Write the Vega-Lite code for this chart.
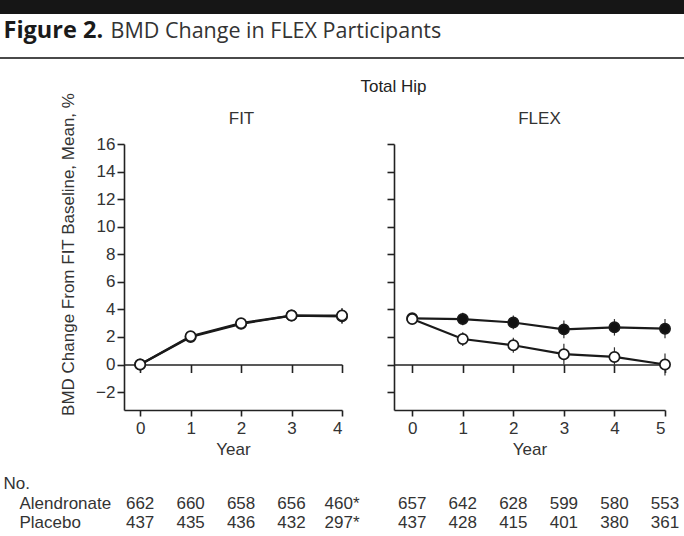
{
  "$schema": "https://vega.github.io/schema/vega-lite/v6.json",
  "padding": 0,
  "background": "white",
  "bounds": "flush",
  "spacing": 0,
  "config": {
    "view": {"stroke": null},
    "font": "Liberation Sans",
    "axis": {"labelFont": "Liberation Sans", "titleFont": "Liberation Sans", "labelColor": "#333", "titleColor": "#333", "domainColor": "#222", "tickColor": "#222", "labelFontSize": 17, "titleFontSize": 17, "titleFontWeight": "normal", "grid": false, "domainWidth": 1.6, "tickWidth": 1.6, "labelOverlap": false}
  },
  "datasets": {
    "pts": [
      {"panel": "FIT", "group": "Alendronate", "year": 0, "value": 0, "lo": 0, "hi": 0},
      {"panel": "FIT", "group": "Alendronate", "year": 1, "value": 2.0, "lo": 1.7, "hi": 2.3},
      {"panel": "FIT", "group": "Alendronate", "year": 2, "value": 2.95, "lo": 2.65, "hi": 3.25},
      {"panel": "FIT", "group": "Alendronate", "year": 3, "value": 3.55, "lo": 3.25, "hi": 3.85},
      {"panel": "FIT", "group": "Alendronate", "year": 4, "value": 3.5, "lo": 2.95, "hi": 4.05},
      {"panel": "FIT", "group": "Placebo", "year": 0, "value": 0, "lo": 0, "hi": 0},
      {"panel": "FIT", "group": "Placebo", "year": 1, "value": 2.05, "lo": 1.75, "hi": 2.35},
      {"panel": "FIT", "group": "Placebo", "year": 2, "value": 3.0, "lo": 2.7, "hi": 3.3},
      {"panel": "FIT", "group": "Placebo", "year": 3, "value": 3.55, "lo": 3.25, "hi": 3.85},
      {"panel": "FIT", "group": "Placebo", "year": 4, "value": 3.55, "lo": 3.0, "hi": 4.1},
      {"panel": "FLEX", "group": "Alendronate", "year": 0, "value": 3.35, "lo": 3.05, "hi": 3.65},
      {"panel": "FLEX", "group": "Alendronate", "year": 1, "value": 3.3, "lo": 2.85, "hi": 3.75},
      {"panel": "FLEX", "group": "Alendronate", "year": 2, "value": 3.05, "lo": 2.55, "hi": 3.55},
      {"panel": "FLEX", "group": "Alendronate", "year": 3, "value": 2.55, "lo": 1.9, "hi": 3.2},
      {"panel": "FLEX", "group": "Alendronate", "year": 4, "value": 2.7, "lo": 2.1, "hi": 3.3},
      {"panel": "FLEX", "group": "Alendronate", "year": 5, "value": 2.6, "lo": 1.9, "hi": 3.3},
      {"panel": "FLEX", "group": "Placebo", "year": 0, "value": 3.3, "lo": 2.95, "hi": 3.65},
      {"panel": "FLEX", "group": "Placebo", "year": 1, "value": 1.85, "lo": 1.35, "hi": 2.35},
      {"panel": "FLEX", "group": "Placebo", "year": 2, "value": 1.4, "lo": 0.85, "hi": 1.95},
      {"panel": "FLEX", "group": "Placebo", "year": 3, "value": 0.75, "lo": 0.0, "hi": 1.5},
      {"panel": "FLEX", "group": "Placebo", "year": 4, "value": 0.55, "lo": -0.15, "hi": 1.25},
      {"panel": "FLEX", "group": "Placebo", "year": 5, "value": 0.0, "lo": -0.8, "hi": 0.8}
    ],
    "nums": [
      {"panel": "FIT", "group": "Alendronate", "year": 0, "n": "662"},
      {"panel": "FIT", "group": "Alendronate", "year": 1, "n": "660"},
      {"panel": "FIT", "group": "Alendronate", "year": 2, "n": "658"},
      {"panel": "FIT", "group": "Alendronate", "year": 3, "n": "656"},
      {"panel": "FIT", "group": "Alendronate", "year": 4, "n": "460*"},
      {"panel": "FIT", "group": "Placebo", "year": 0, "n": "437"},
      {"panel": "FIT", "group": "Placebo", "year": 1, "n": "435"},
      {"panel": "FIT", "group": "Placebo", "year": 2, "n": "436"},
      {"panel": "FIT", "group": "Placebo", "year": 3, "n": "432"},
      {"panel": "FIT", "group": "Placebo", "year": 4, "n": "297*"},
      {"panel": "FLEX", "group": "Alendronate", "year": 0, "n": "657"},
      {"panel": "FLEX", "group": "Alendronate", "year": 1, "n": "642"},
      {"panel": "FLEX", "group": "Alendronate", "year": 2, "n": "628"},
      {"panel": "FLEX", "group": "Alendronate", "year": 3, "n": "599"},
      {"panel": "FLEX", "group": "Alendronate", "year": 4, "n": "580"},
      {"panel": "FLEX", "group": "Alendronate", "year": 5, "n": "553"},
      {"panel": "FLEX", "group": "Placebo", "year": 0, "n": "437"},
      {"panel": "FLEX", "group": "Placebo", "year": 1, "n": "428"},
      {"panel": "FLEX", "group": "Placebo", "year": 2, "n": "415"},
      {"panel": "FLEX", "group": "Placebo", "year": 3, "n": "401"},
      {"panel": "FLEX", "group": "Placebo", "year": 4, "n": "380"},
      {"panel": "FLEX", "group": "Placebo", "year": 5, "n": "361"}
    ]
  },
  "vconcat": [
    {
      "width": 684, "height": 14,
      "view": {"fill": "#161616", "stroke": null},
      "data": {"values": [{"v": 0}]},
      "mark": {"type": "text", "text": ""},
      "encoding": {
        "x": {"field": "v", "type": "quantitative",
              "axis": {"orient": "bottom", "domain": false, "ticks": false, "labels": false, "title": "Figure 2.", "titleFont": "Open Sans", "titleFontWeight": "bold", "titleFontSize": 23.5, "titleColor": "#1a1a1a", "titleX": 3, "titleY": 23, "titleAlign": "left", "titleBaseline": "alphabetic", "titleAngle": 0}},
        "y": {"field": "v", "type": "quantitative",
              "axis": {"orient": "left", "domain": false, "ticks": false, "labels": false, "title": "BMD Change in FLEX Participants", "titleFont": "Open Sans", "titleFontWeight": "normal", "titleFontSize": 21.5, "titleColor": "#333", "titleX": 110, "titleY": 37, "titleAlign": "left", "titleBaseline": "alphabetic", "titleAngle": 0}}
      }
    },
    {"width": 1, "height": 43, "data": {"values": []}, "mark": "point"},
    {"width": 684, "height": 2, "view": {"fill": "#4a4a4a", "stroke": null}, "data": {"values": []}, "mark": "point"},
    {"width": 1, "height": 85, "data": {"values": []}, "mark": "point"},
    {
      "columns": 3,
      "spacing": {"row": 84, "column": 52},
      "bounds": "flush",
      "concat": [
        {"width": 72, "height": 266, "data": {"values": []}, "mark": "point"},
        {
          "width": 218, "height": 266,
          "data": {"name": "pts"},
          "transform": [{"filter": "datum.panel === 'FIT'"}],
          "layer": [
            {
              "mark": {"type": "rule", "color": "#333", "strokeWidth": 1.2},
              "encoding": {
                "x": {"field": "year", "type": "quantitative", "scale": {"domain": [-0.32, 4], "nice": false, "zero": false},
                      "axis": {"orient": "bottom", "offset": -45.48, "values": [0, 1, 2, 3, 4], "labels": false, "title": null, "tickSize": 8, "domain": true}},
                "y": {"field": "lo", "type": "quantitative", "scale": {"domain": [-3.3, 16], "nice": false, "zero": false},
                      "axis": {"orient": "left", "values": [-2, 0, 2, 4, 6, 8, 10, 12, 14, 16], "tickSize": 7, "labelPadding": 2, "title": "BMD Change From FIT Baseline, Mean, %", "titleX": -56, "titleY": 110, "titleAlign": "center", "titleBaseline": "middle", "titleAngle": -90}},
                "y2": {"field": "hi"}
              }
            },
            {
              "mark": {"type": "line", "color": "#1a1a1a", "strokeWidth": 2.2},
              "encoding": {
                "x": {"field": "year", "type": "quantitative",
                      "axis": {"orient": "bottom", "values": [0, 1, 2, 3, 4], "tickSize": 6, "labelPadding": 4, "title": "Year", "titlePadding": 5, "format": "d"}},
                "y": {"field": "value", "type": "quantitative",
                      "axis": {"orient": "right", "domain": false, "ticks": false, "labels": false, "title": "Total Hip", "titleColor": "#222", "titleX": 51, "titleY": -53, "titleAlign": "center", "titleBaseline": "alphabetic", "titleAngle": 0}},
                "detail": {"field": "group"}
              }
            },
            {
              "mark": {"type": "point", "shape": "circle", "filled": true, "fill": "white", "stroke": "#1a1a1a", "strokeWidth": 1.7, "size": 105, "opacity": 1},
              "encoding": {
                "x": {"field": "year", "type": "quantitative",
                      "axis": {"orient": "top", "domain": false, "ticks": false, "labels": false, "title": "FIT", "titleX": 117, "titleY": -21, "titleAlign": "center", "titleBaseline": "alphabetic", "titleAngle": 0}},
                "y": {"field": "value", "type": "quantitative", "axis": null}
              }
            }
          ],
          "resolve": {"axis": {"x": "independent", "y": "independent"}}
        },
        {
          "width": 271, "height": 266,
          "data": {"name": "pts"},
          "transform": [{"filter": "datum.panel === 'FLEX'"}],
          "layer": [
            {
              "mark": {"type": "rule", "color": "#333", "strokeWidth": 1.2},
              "encoding": {
                "x": {"field": "year", "type": "quantitative", "scale": {"domain": [-0.36, 5], "nice": false, "zero": false},
                      "axis": {"orient": "bottom", "offset": -45.48, "values": [0, 1, 2, 3, 4, 5], "labels": false, "title": null, "tickSize": 8, "domain": true}},
                "y": {"field": "lo", "type": "quantitative", "scale": {"domain": [-3.3, 16], "nice": false, "zero": false},
                      "axis": {"orient": "left", "values": [-2, 0, 2, 4, 6, 8, 10, 12, 14, 16], "tickSize": 7, "labels": false, "title": null}},
                "y2": {"field": "hi"}
              }
            },
            {
              "mark": {"type": "line", "color": "#1a1a1a", "strokeWidth": 2.2},
              "encoding": {
                "x": {"field": "year", "type": "quantitative",
                      "axis": {"orient": "bottom", "values": [0, 1, 2, 3, 4, 5], "tickSize": 6, "labelPadding": 4, "title": "Year", "titlePadding": 5, "format": "d"}},
                "y": {"field": "value", "type": "quantitative", "axis": null},
                "detail": {"field": "group"}
              }
            },
            {
              "mark": {"type": "point", "shape": "circle", "filled": true, "stroke": "#1a1a1a", "strokeWidth": 1.7, "size": 105, "opacity": 1},
              "encoding": {
                "x": {"field": "year", "type": "quantitative",
                      "axis": {"orient": "top", "domain": false, "ticks": false, "labels": false, "title": "FLEX", "titleX": 145, "titleY": -21, "titleAlign": "center", "titleBaseline": "alphabetic", "titleAngle": 0}},
                "y": {"field": "value", "type": "quantitative", "axis": null},
                "fill": {"field": "group", "type": "nominal", "scale": {"domain": ["Alendronate", "Placebo"], "range": ["#111111", "#ffffff"]}, "legend": null}
              }
            }
          ],
          "resolve": {"axis": {"x": "independent", "y": "independent"}}
        },
        {"width": 72, "height": 38, "data": {"values": []}, "mark": "point"},
        {
          "width": 218, "height": 38,
          "data": {"name": "nums"},
          "transform": [{"filter": "datum.panel === 'FIT'"}],
          "mark": {"type": "text", "fontSize": 17, "color": "#333", "font": "Liberation Sans"},
          "encoding": {
            "x": {"field": "year", "type": "quantitative", "scale": {"domain": [-0.32, 4], "nice": false, "zero": false}, "axis": null},
            "y": {"field": "group", "type": "nominal", "sort": ["Alendronate", "Placebo"], "scale": {"type": "point", "padding": 0.5},
                  "axis": {"title": "No.", "titleAngle": 0, "titleAlign": "left", "titleBaseline": "alphabetic", "titleX": -121, "titleY": -6, "labelAlign": "left", "labelPadding": 105, "ticks": false, "tickSize": 0, "domain": false, "labelBaseline": "middle"}},
            "text": {"field": "n"}
          }
        },
        {
          "width": 271, "height": 38,
          "data": {"name": "nums"},
          "transform": [{"filter": "datum.panel === 'FLEX'"}],
          "mark": {"type": "text", "fontSize": 17, "color": "#333", "font": "Liberation Sans"},
          "encoding": {
            "x": {"field": "year", "type": "quantitative", "scale": {"domain": [-0.36, 5], "nice": false, "zero": false}, "axis": null},
            "y": {"field": "group", "type": "nominal", "sort": ["Alendronate", "Placebo"], "scale": {"type": "point", "padding": 0.5}, "axis": null},
            "text": {"field": "n"}
          }
        }
      ]
    }
  ]
}
